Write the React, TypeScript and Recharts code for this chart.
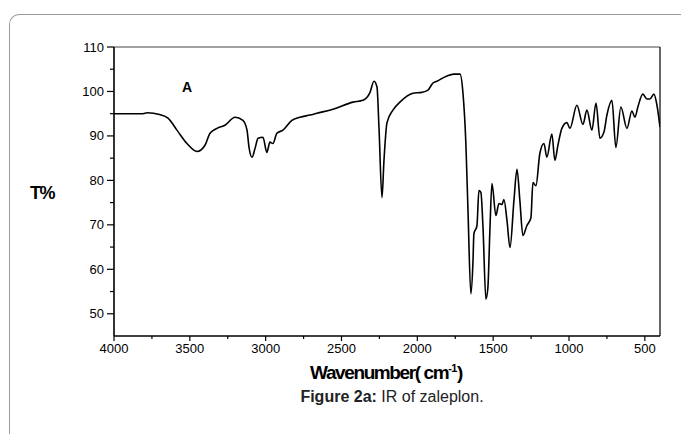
import React from 'react';
import { LineChart, Line, XAxis, YAxis, ReferenceLine } from 'recharts';

// IR spectrum of zaleplon: wavenumber (cm-1) and transmittance (%)
const wavenumbers = [
  4000, 3900, 3809, 3780, 3700, 3644, 3585, 3519, 3453, 3400, 3367, 3321, 3268, 3202, 3150, 3123,
  3110, 3090, 3070, 3050, 3018, 2992, 2972, 2952, 2926, 2886, 2827, 2774, 2708, 2662, 2556, 2424,
  2359, 2312, 2286, 2266, 2253, 2233, 2220, 2200, 2161, 2115, 2029, 1970, 1930, 1897, 1871, 1805,
  1760, 1719, 1699, 1680, 1666, 1647, 1633, 1627, 1607, 1594, 1581, 1567, 1548, 1535, 1521, 1508,
  1482, 1462, 1442, 1429, 1409, 1389, 1363, 1343, 1324, 1304, 1278, 1251, 1238, 1218, 1192, 1165,
  1146, 1113, 1093, 1073, 1047, 1014, 994, 948, 908, 882, 849, 822, 796, 770, 750, 717,
  691, 658, 618, 585, 565, 546, 513, 486, 467, 440, 420, 400,
];
const transmittance = [
  95.0, 95.0, 95.0, 95.2, 94.8, 94.0, 91.3, 88.3, 86.5, 87.9, 90.6, 91.7, 92.4, 94.2, 93.5, 91.3,
  87.5, 85.2, 87.2, 89.5, 89.7, 86.3, 88.6, 88.3, 90.6, 91.3, 93.5, 94.2, 94.7, 95.1, 96.0, 97.6,
  98.0, 99.8, 102.3, 101.0, 92.0, 76.1, 84.5, 93.0, 95.8, 97.6, 99.6, 99.8, 100.3, 101.9, 102.3, 103.5,
  103.9, 103.9, 99.6, 88.3, 73.2, 54.5, 61.9, 68.0, 69.8, 77.7, 77.3, 69.4, 53.3, 55.8, 69.4, 79.3,
  72.1, 74.8, 74.6, 75.7, 71.0, 64.9, 75.5, 82.5, 75.5, 67.6, 69.8, 71.6, 79.5, 78.8, 86.1, 88.3,
  85.2, 90.4, 84.5, 87.9, 91.7, 93.0, 91.7, 96.9, 92.6, 95.8, 91.3, 97.4, 89.5, 90.8, 94.7, 98.0,
  87.4, 96.5, 91.7, 95.6, 94.2, 96.5, 99.4, 98.3, 98.3, 99.4, 96.9, 92.0,
];
const xTicks = [4000, 3750, 3500, 3250, 3000, 2750, 2500, 2250, 2000, 1750, 1500, 1250, 1000, 750, 500];
const yTicks = [50, 55, 60, 65, 70, 75, 80, 85, 90, 95, 100, 105, 110];

const data = wavenumbers.map((w, i) => ({ w, t: transmittance[i] }));

const FONT = '"Liberation Sans", Arial, Helvetica, sans-serif';

const YTick = (props: any) => {
  const { x, y, payload } = props;
  const major = payload.value % 10 === 0;
  return (
    <g>
      <line x1={x} x2={x - (major ? 7 : 4)} y1={y} y2={y} stroke="#000" strokeWidth={1.2} />
      {major && (
        <text x={x - 10} y={y} dy={4.5} textAnchor="end" fontSize={13} fill="#000" fontFamily={FONT}>
          {payload.value}
        </text>
      )}
    </g>
  );
};

const XTick = (props: any) => {
  const { x, y, payload } = props;
  const major = payload.value % 500 === 0;
  return (
    <g>
      <line x1={x} x2={x} y1={y} y2={y + (major ? 5 : 3)} stroke="#000" strokeWidth={1.2} />
      {major && (
        <text x={x} y={y + 17} textAnchor="middle" fontSize={13} fill="#000" fontFamily={FONT}>
          {payload.value}
        </text>
      )}
    </g>
  );
};

export default function App() {
  return (
    <div
      style={{
        position: 'absolute',
        left: 0,
        top: 0,
        width: 681,
        height: 434,
        overflow: 'hidden',
        background: '#fff',
        fontFamily: FONT,
      }}
    >
      <div
        style={{
          position: 'absolute',
          left: 9,
          top: 14,
          width: 720,
          height: 500,
          borderLeft: '1px solid #9a9a9a',
          borderTop: '1px solid #9a9a9a',
          borderTopLeftRadius: 10,
        }}
      />
      <div style={{ position: 'absolute', left: 0, top: 0 }}>
        <LineChart
          width={681}
          height={434}
          data={data}
          margin={{ top: 47, right: 21, bottom: 68, left: 64 }}
        >
          <XAxis
            dataKey="w"
            type="number"
            domain={[400, 4000]}
            reversed
            ticks={xTicks}
            interval={0}
            allowDataOverflow
            tickSize={0}
            tickMargin={0}
            tickLine={false}
            tick={<XTick />}
            axisLine={{ stroke: '#000', strokeWidth: 1.6 }}
            height={30}
          />
          <YAxis
            type="number"
            domain={[45, 110]}
            ticks={yTicks}
            interval={0}
            allowDataOverflow
            tickSize={0}
            tickMargin={0}
            tickLine={false}
            tick={<YTick />}
            axisLine={{ stroke: '#000', strokeWidth: 1.6 }}
            width={50}
          />
          <ReferenceLine y={110} stroke="#444" strokeWidth={1} ifOverflow="extendDomain" />
          <ReferenceLine x={400} stroke="#000" strokeWidth={1.2} ifOverflow="extendDomain" />
          <Line
            type="monotone"
            dataKey="t"
            stroke="#000"
            strokeWidth={1.6}
            dot={false}
            isAnimationActive={false}
          />
        </LineChart>
      </div>
      <div
        style={{
          position: 'absolute',
          left: 182,
          top: 79,
          fontSize: 14,
          fontWeight: 'bold',
          color: '#000',
        }}
      >
        A
      </div>
      <div
        style={{
          position: 'absolute',
          left: 30,
          top: 182,
          fontSize: 18,
          lineHeight: '22px',
          fontWeight: 'bold',
          color: '#000',
          letterSpacing: -1.5,
        }}
      >
        T%
      </div>
      <div
        style={{
          position: 'absolute',
          left: 236,
          width: 300,
          top: 362,
          textAlign: 'center',
          fontSize: 19,
          lineHeight: '22px',
          fontWeight: 'bold',
          color: '#000',
          letterSpacing: -1.4,
          whiteSpace: 'nowrap',
        }}
      >
        Wavenumber( cm
        <sup style={{ fontSize: 11, letterSpacing: -0.5, lineHeight: 0, verticalAlign: '0.6em' }}>-1</sup>)
      </div>
      <div
        style={{
          position: 'absolute',
          left: 232,
          width: 320,
          top: 388,
          textAlign: 'center',
          fontSize: 16,
          lineHeight: '18px',
          color: '#222',
          whiteSpace: 'nowrap',
        }}
      >
        <b>Figure 2a:</b> IR of zaleplon.
      </div>
    </div>
  );
}
